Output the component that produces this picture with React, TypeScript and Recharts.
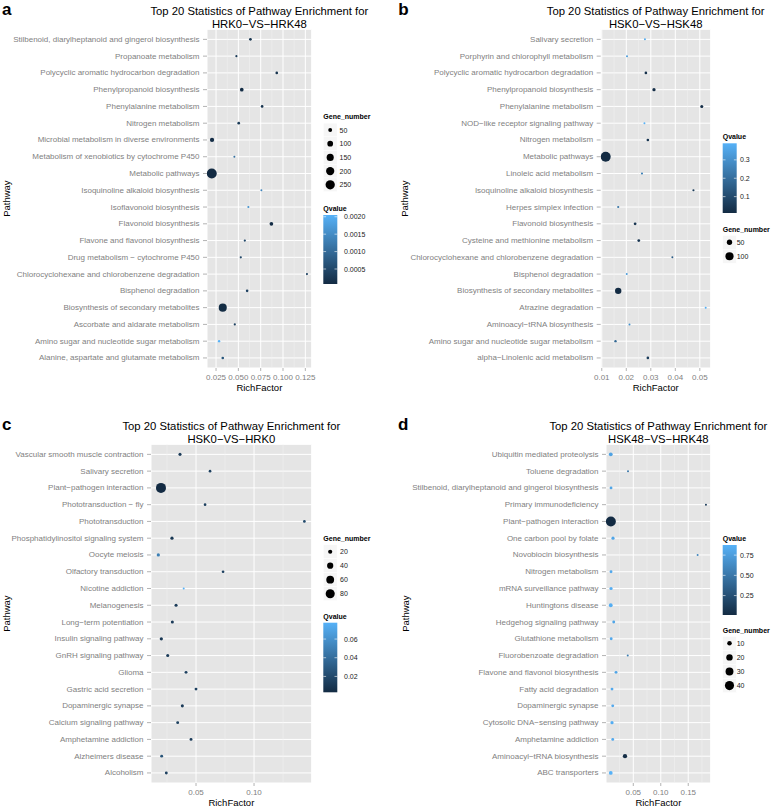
import React from 'react';
import { ScatterChart, Scatter, XAxis, YAxis, ZAxis, CartesianGrid, ReferenceLine } from 'recharts';

const FONT = '"Liberation Sans", Arial, Helvetica, sans-serif';
const AXIS_GREY = '#7F7F7F';
const TICK_FONT = 8;
const LOW = [0x13, 0x2b, 0x43];
const HIGH = [0x56, 0xb1, 0xf7];
const AREA_MIN = Math.PI; // 2px dot
const AREA_MAX = 25 * Math.PI; // 10px dot

// a: HRK0-VS-HRK48
const pathwaysA = [
  'Stilbenoid, diarylheptanoid and gingerol biosynthesis',
  'Propanoate metabolism',
  'Polycyclic aromatic hydrocarbon degradation',
  'Phenylpropanoid biosynthesis',
  'Phenylalanine metabolism',
  'Nitrogen metabolism',
  'Microbial metabolism in diverse environments',
  'Metabolism of xenobiotics by cytochrome P450',
  'Metabolic pathways',
  'Isoquinoline alkaloid biosynthesis',
  'Isoflavonoid biosynthesis',
  'Flavonoid biosynthesis',
  'Flavone and flavonol biosynthesis',
  'Drug metabolism − cytochrome P450',
  'Chlorocyclohexane and chlorobenzene degradation',
  'Bisphenol degradation',
  'Biosynthesis of secondary metabolites',
  'Ascorbate and aldarate metabolism',
  'Amino sugar and nucleotide sugar metabolism',
  'Alanine, aspartate and glutamate metabolism',
];
const richA = [0.0635, 0.0478, 0.093, 0.0538, 0.0766, 0.0504, 0.0205, 0.0455, 0.0202, 0.0758, 0.0612, 0.087, 0.0572, 0.0527, 0.1268, 0.0598, 0.0325, 0.046, 0.0284, 0.0325];
const geneA = [27, 20, 27, 45, 27, 27, 59, 18, 290, 18, 19, 45, 21, 21, 19, 26, 190, 20, 23, 26];
const qA = [0.0002, 0.0003, 0.0002, 0.0001, 0.0002, 0.0003, 0.0001, 0.0011, 0.00007, 0.0014, 0.0016, 0.0001, 0.0005, 0.0005, 0.0004, 0.0004, 0.00008, 0.0004, 0.00205, 0.0007];
const xTicksA = [0.025, 0.05, 0.075, 0.1, 0.125];
const minorA = [0.0375, 0.0625, 0.0875, 0.1125];
const sizeBreaksA = [50, 100, 150, 200, 250];
const qBreaksA = [0.0005, 0.001, 0.0015, 0.002];

// b: HSK0-VS-HSK48
const pathwaysB = [
  'Salivary secretion',
  'Porphyrin and chlorophyll metabolism',
  'Polycyclic aromatic hydrocarbon degradation',
  'Phenylpropanoid biosynthesis',
  'Phenylalanine metabolism',
  'NOD−like receptor signaling pathway',
  'Nitrogen metabolism',
  'Metabolic pathways',
  'Linoleic acid metabolism',
  'Isoquinoline alkaloid biosynthesis',
  'Herpes simplex infection',
  'Flavonoid biosynthesis',
  'Cysteine and methionine metabolism',
  'Chlorocyclohexane and chlorobenzene degradation',
  'Bisphenol degradation',
  'Biosynthesis of secondary metabolites',
  'Atrazine degradation',
  'Aminoacyl−tRNA biosynthesis',
  'Amino sugar and nucleotide sugar metabolism',
  'alpha−Linolenic acid metabolism',
];
const richB = [0.0276, 0.0203, 0.028, 0.0313, 0.0508, 0.0274, 0.0288, 0.0116, 0.0264, 0.0474, 0.0167, 0.0236, 0.0251, 0.0388, 0.0202, 0.0167, 0.0524, 0.0213, 0.0156, 0.0288];
const geneB = [17, 17, 21, 26, 24, 17, 21, 145, 18, 18, 18, 22, 22, 17, 17, 66, 17, 17, 19, 21];
const qB = [0.37, 0.33, 0.03, 0.02, 0.02, 0.39, 0.04, 0.011, 0.26, 0.06, 0.22, 0.04, 0.04, 0.15, 0.33, 0.012, 0.38, 0.3, 0.18, 0.06];
const xTicksB = [0.01, 0.02, 0.03, 0.04, 0.05];
const minorB = [0.015, 0.025, 0.035, 0.045];
const sizeBreaksB = [50, 100];
const qBreaksB = [0.1, 0.2, 0.3];

// c: HSK0-VS-HRK0
const pathwaysC = [
  'Vascular smooth muscle contraction',
  'Salivary secretion',
  'Plant−pathogen interaction',
  'Phototransduction − fly',
  'Phototransduction',
  'Phosphatidylinositol signaling system',
  'Oocyte meiosis',
  'Olfactory transduction',
  'Nicotine addiction',
  'Melanogenesis',
  'Long−term potentiation',
  'Insulin signaling pathway',
  'GnRH signaling pathway',
  'Glioma',
  'Gastric acid secretion',
  'Dopaminergic synapse',
  'Calcium signaling pathway',
  'Amphetamine addiction',
  'Alzheimers disease',
  'Alcoholism',
];
const richC = [0.0362, 0.0621, 0.0198, 0.0578, 0.1434, 0.0293, 0.0175, 0.0733, 0.0394, 0.0328, 0.0296, 0.0201, 0.0256, 0.0414, 0.05, 0.0382, 0.0342, 0.0457, 0.0204, 0.0244];
const geneC = [13, 11, 96, 11, 11, 14, 14, 11, 8, 13, 13, 14, 13, 12, 12, 13, 12, 12, 12, 12];
const qC = [0.012, 0.015, 0.003, 0.015, 0.02, 0.01, 0.05, 0.015, 0.0775, 0.012, 0.012, 0.01, 0.012, 0.015, 0.015, 0.012, 0.015, 0.012, 0.025, 0.015];
const xTicksC = [0.05, 0.1];
const minorC = [0.025, 0.075, 0.125];
const sizeBreaksC = [20, 40, 60, 80];
const qBreaksC = [0.02, 0.04, 0.06];

// d: HSK48-VS-HRK48
const pathwaysD = [
  'Ubiquitin mediated proteolysis',
  'Toluene degradation',
  'Stilbenoid, diarylheptanoid and gingerol biosynthesis',
  'Primary immunodeficiency',
  'Plant−pathogen interaction',
  'One carbon pool by folate',
  'Novobiocin biosynthesis',
  'Nitrogen metabolism',
  'mRNA surveillance pathway',
  'Huntingtons disease',
  'Hedgehog signaling pathway',
  'Glutathione metabolism',
  'Fluorobenzoate degradation',
  'Flavone and flavonol biosynthesis',
  'Fatty acid degradation',
  'Dopaminergic synapse',
  'Cytosolic DNA−sensing pathway',
  'Amphetamine addiction',
  'Aminoacyl−tRNA biosynthesis',
  'ABC transporters',
];
const richD = [0.009, 0.0404, 0.0095, 0.1822, 0.0092, 0.0131, 0.1671, 0.0095, 0.0095, 0.009, 0.0144, 0.0098, 0.0399, 0.0186, 0.0113, 0.0126, 0.0113, 0.0126, 0.0349, 0.009];
const geneD = [7, 2, 4, 2, 48, 5, 2, 4, 5, 7, 4, 4, 2, 4, 4, 4, 5, 4, 9, 7];
const qD = [0.78, 0.5, 0.8, 0.12, 0.01, 0.8, 0.6, 0.82, 0.85, 0.85, 0.8, 0.82, 0.55, 0.8, 0.82, 0.82, 0.85, 0.82, 0.03, 0.875];
const xTicksD = [0.05, 0.1, 0.15];
const minorD = [0.025, 0.075, 0.125, 0.175];
const sizeBreaksD = [10, 20, 30, 40];
const qBreaksD = [0.25, 0.5, 0.75];

const clamp01 = (t: number) => Math.min(1, Math.max(0, t));

function qColor(v: number, lo: number, hi: number) {
  const t = clamp01((v - lo) / (hi - lo));
  const c = LOW.map((l, i) => Math.round(l + (HIGH[i] - l) * t));
  return `rgb(${c[0]},${c[1]},${c[2]})`;
}

function legendRadius(v: number, lo: number, hi: number) {
  const t = clamp01((v - lo) / (hi - lo));
  return Math.sqrt((AREA_MIN + (AREA_MAX - AREA_MIN) * t) / Math.PI);
}

// ggplot-like 5% expansion of a continuous axis
function expand(vals: number[]) {
  const lo = Math.min(...vals);
  const hi = Math.max(...vals);
  const pad = (hi - lo) * 0.05;
  return [lo - pad, hi + pad];
}

type Legend = {
  x: number; sizeTitleY: number; sizeY0: number; sizeStep: number; circleX: number; sizeLabelX: number;
  qTitleY: number; barTop: number; barBottom: number; qLabelX: number;
};

type PanelProps = {
  id: string; letter: string; letterX: number; subtitle: string;
  left: number; top: number; width: number; height: number;
  plot: { l: number; r: number; t: number; b: number };
  yTitleX: number;
  pathways: string[]; rich: number[]; gene: number[]; q: number[];
  xTicks: number[]; minorX: number[]; xDigits: number;
  sizeBreaks: number[]; qBreaks: number[]; qDigits: number;
  legend: Legend;
};

function Panel(p: PanelProps) {
  const n = p.pathways.length;
  const rows = p.pathways.map((name, i) => ({ name, y: n - i, rich: p.rich[i], gene: p.gene[i], q: p.q[i] }));
  const qLo = Math.min(...p.q);
  const qHi = Math.max(...p.q);
  const gLo = Math.min(...p.gene);
  const gHi = Math.max(...p.gene);
  const xDomain = expand(p.rich);
  const yTicks = rows.map((r) => r.y);
  const nameOf = (v: number) => p.pathways[n - v] ?? '';
  const { plot, legend: lg } = p;
  const plotCx = (plot.l + plot.r) / 2;
  const plotCy = (plot.t + plot.b) / 2;
  const barH = lg.barBottom - lg.barTop;
  const barW = 14;
  const gradId = `qgrad-${p.id}`;

  // plain text ticks so long pathway names are never wrapped
  const PathwayTick = (t: any) => (
    <text x={t.x} y={t.y} textAnchor="end" dominantBaseline="central" fontSize={TICK_FONT} fill={AXIS_GREY} fontFamily={FONT}>
      {nameOf(t.payload.value)}
    </text>
  );

  return (
    <div style={{ position: 'absolute', left: p.left, top: p.top, width: p.width, height: p.height }}>
      <div style={{ position: 'absolute', left: 0, top: 0 }}>
        <ScatterChart
          width={p.width}
          height={p.height}
          margin={{ top: plot.t, right: p.width - plot.r, bottom: p.height - plot.b - 24, left: 0 }}
          style={{ fontFamily: FONT }}
        >
          <CartesianGrid fill="#E5E5E5" fillOpacity={1} stroke="#FFFFFF" strokeWidth={1} />
          {p.minorX.map((v) => (
            <ReferenceLine key={v} x={v} stroke="#F2F2F2" strokeWidth={0.5} />
          ))}
          <XAxis
            type="number"
            dataKey="rich"
            domain={xDomain}
            allowDataOverflow
            ticks={p.xTicks}
            interval={0}
            tickFormatter={(v: number) => v.toFixed(p.xDigits)}
            tick={{ fontSize: TICK_FONT, fill: AXIS_GREY, fontFamily: FONT }}
            tickLine={{ stroke: AXIS_GREY, strokeWidth: 0.6 }}
            tickSize={3}
            tickMargin={3}
            axisLine={false}
            height={24}
          />
          <YAxis
            type="number"
            dataKey="y"
            domain={[0.4, n + 0.6]}
            allowDataOverflow
            ticks={yTicks}
            interval={0}
            tick={PathwayTick}
            tickLine={{ stroke: AXIS_GREY, strokeWidth: 0.6 }}
            tickSize={4}
            tickMargin={3.5}
            axisLine={false}
            width={plot.l}
          />
          <ZAxis type="number" dataKey="gene" domain={['dataMin', 'dataMax']} range={[AREA_MIN, AREA_MAX]} />
          <Scatter
            data={rows}
            isAnimationActive={false}
            shape={(s: any) => {
              const r = s.size != null ? Math.sqrt(s.size / Math.PI) : (s.width || 4) / 2;
              return <circle cx={s.cx} cy={s.cy} r={r} fill={qColor(s.payload.q, qLo, qHi)} />;
            }}
          />
        </ScatterChart>
      </div>

      <svg
        width={p.width}
        height={p.height}
        style={{ position: 'absolute', left: 0, top: 0, pointerEvents: 'none', fontFamily: FONT }}
      >
        <defs>
          <linearGradient id={gradId} x1="0" y1="1" x2="0" y2="0">
            <stop offset="0%" stopColor={qColor(qLo, qLo, qHi)} />
            <stop offset="50%" stopColor={qColor((qLo + qHi) / 2, qLo, qHi)} />
            <stop offset="100%" stopColor={qColor(qHi, qLo, qHi)} />
          </linearGradient>
        </defs>

        {/* panel letter and title */}
        <text x={p.letterX} y={plot.t - 14.3} fontSize={17} fontWeight="bold" fill="#000">{p.letter}</text>
        <text x={plotCx} y={plot.t - 14.3} fontSize={11.3} textAnchor="middle" fill="#000">
          Top 20 Statistics of Pathway Enrichment for
        </text>
        <text x={plotCx} y={plot.t - 1.3} fontSize={11.3} textAnchor="middle" fill="#000">{p.subtitle}</text>

        {/* axis titles */}
        <text x={plotCx} y={plot.b + 19} fontSize={9.5} textAnchor="middle" dominantBaseline="central" fill="#000">
          RichFactor
        </text>
        <text
          x={p.yTitleX}
          y={plotCy}
          fontSize={9.5}
          textAnchor="middle"
          dominantBaseline="central"
          fill="#000"
          transform={`rotate(-90 ${p.yTitleX} ${plotCy})`}
        >
          Pathway
        </text>

        {/* Gene_number legend */}
        <text x={lg.x} y={lg.sizeTitleY} fontSize={7} fontWeight="bold" dominantBaseline="central" fill="#000">
          Gene_number
        </text>
        {p.sizeBreaks.map((v, i) => {
          const cy = lg.sizeY0 + i * lg.sizeStep;
          return (
            <g key={v}>
              <rect x={lg.circleX - 6.85} y={cy - lg.sizeStep / 2} width={13.7} height={lg.sizeStep} fill="#F6F6F6" stroke="#FFFFFF" strokeWidth={0.5} />
              <circle cx={lg.circleX} cy={cy} r={legendRadius(v, gLo, gHi)} fill="#000" />
              <text x={lg.sizeLabelX} y={cy} fontSize={7} dominantBaseline="central" fill="#1A1A1A">{v}</text>
            </g>
          );
        })}

        {/* Qvalue colourbar */}
        <text x={lg.x} y={lg.qTitleY} fontSize={7} fontWeight="bold" dominantBaseline="central" fill="#000">
          Qvalue
        </text>
        <rect x={lg.x} y={lg.barTop} width={barW} height={barH} fill={`url(#${gradId})`} />
        {p.qBreaks.map((v) => {
          const y = lg.barBottom - ((v - qLo) / (qHi - qLo)) * barH;
          return (
            <g key={v}>
              <line x1={lg.x} x2={lg.x + 2.8} y1={y} y2={y} stroke="#FFFFFF" strokeWidth={0.6} />
              <line x1={lg.x + barW - 2.8} x2={lg.x + barW} y1={y} y2={y} stroke="#FFFFFF" strokeWidth={0.6} />
              <text x={lg.qLabelX} y={y} fontSize={7} dominantBaseline="central" fill="#1A1A1A">
                {v.toFixed(p.qDigits)}
              </text>
            </g>
          );
        })}
      </svg>
    </div>
  );
}

export default function App() {
  return (
    <div style={{ position: 'absolute', left: 0, top: 0, width: 778, height: 806, background: '#FFFFFF', overflow: 'hidden' }}>
      <Panel
        id="a" letter="a" letterX={2} subtitle="HRK0−VS−HRK48"
        left={0} top={0} width={390} height={400}
        plot={{ l: 207, r: 311.7, t: 29.3, b: 368 }} yTitleX={6.7}
        pathways={pathwaysA} rich={richA} gene={geneA} q={qA}
        xTicks={xTicksA} minorX={minorA} xDigits={3}
        sizeBreaks={sizeBreaksA} qBreaks={qBreaksA} qDigits={4}
        legend={{ x: 323.3, sizeTitleY: 116.7, sizeY0: 130, sizeStep: 13.7, circleX: 330.2, sizeLabelX: 339.5, qTitleY: 208.3, barTop: 215, barBottom: 284, qLabelX: 344 }}
      />
      <Panel
        id="b" letter="b" letterX={8.3} subtitle="HSK0−VS−HSK48"
        left={390} top={0} width={388} height={400}
        plot={{ l: 210.7, r: 320.7, t: 29.3, b: 368 }} yTitleX={15}
        pathways={pathwaysB} rich={richB} gene={geneB} q={qB}
        xTicks={xTicksB} minorX={minorB} xDigits={2}
        sizeBreaks={sizeBreaksB} qBreaks={qBreaksB} qDigits={1}
        legend={{ x: 332.7, sizeTitleY: 229, sizeY0: 242.3, sizeStep: 14, circleX: 339.5, sizeLabelX: 346.7, qTitleY: 136.7, barTop: 143.3, barBottom: 213, qLabelX: 350 }}
      />
      <Panel
        id="c" letter="c" letterX={2} subtitle="HSK0−VS−HRK0"
        left={0} top={400} width={390} height={406}
        plot={{ l: 151, r: 311.7, t: 44.3, b: 383 }} yTitleX={6.7}
        pathways={pathwaysC} rich={richC} gene={geneC} q={qC}
        xTicks={xTicksC} minorX={minorC} xDigits={2}
        sizeBreaks={sizeBreaksC} qBreaks={qBreaksC} qDigits={2}
        legend={{ x: 323.3, sizeTitleY: 138.3, sizeY0: 151.7, sizeStep: 14, circleX: 330.2, sizeLabelX: 340, qTitleY: 216.7, barTop: 222.7, barBottom: 292.3, qLabelX: 344 }}
      />
      <Panel
        id="d" letter="d" letterX={8} subtitle="HSK48−VS−HRK48"
        left={390} top={400} width={388} height={406}
        plot={{ l: 216, r: 320.7, t: 44.3, b: 383 }} yTitleX={16}
        pathways={pathwaysD} rich={richD} gene={geneD} q={qD}
        xTicks={xTicksD} minorX={minorD} xDigits={2}
        sizeBreaks={sizeBreaksD} qBreaks={qBreaksD} qDigits={2}
        legend={{ x: 332.7, sizeTitleY: 230, sizeY0: 243.3, sizeStep: 14.1, circleX: 339.5, sizeLabelX: 346.7, qTitleY: 138.3, barTop: 145, barBottom: 215, qLabelX: 350 }}
      />
    </div>
  );
}
